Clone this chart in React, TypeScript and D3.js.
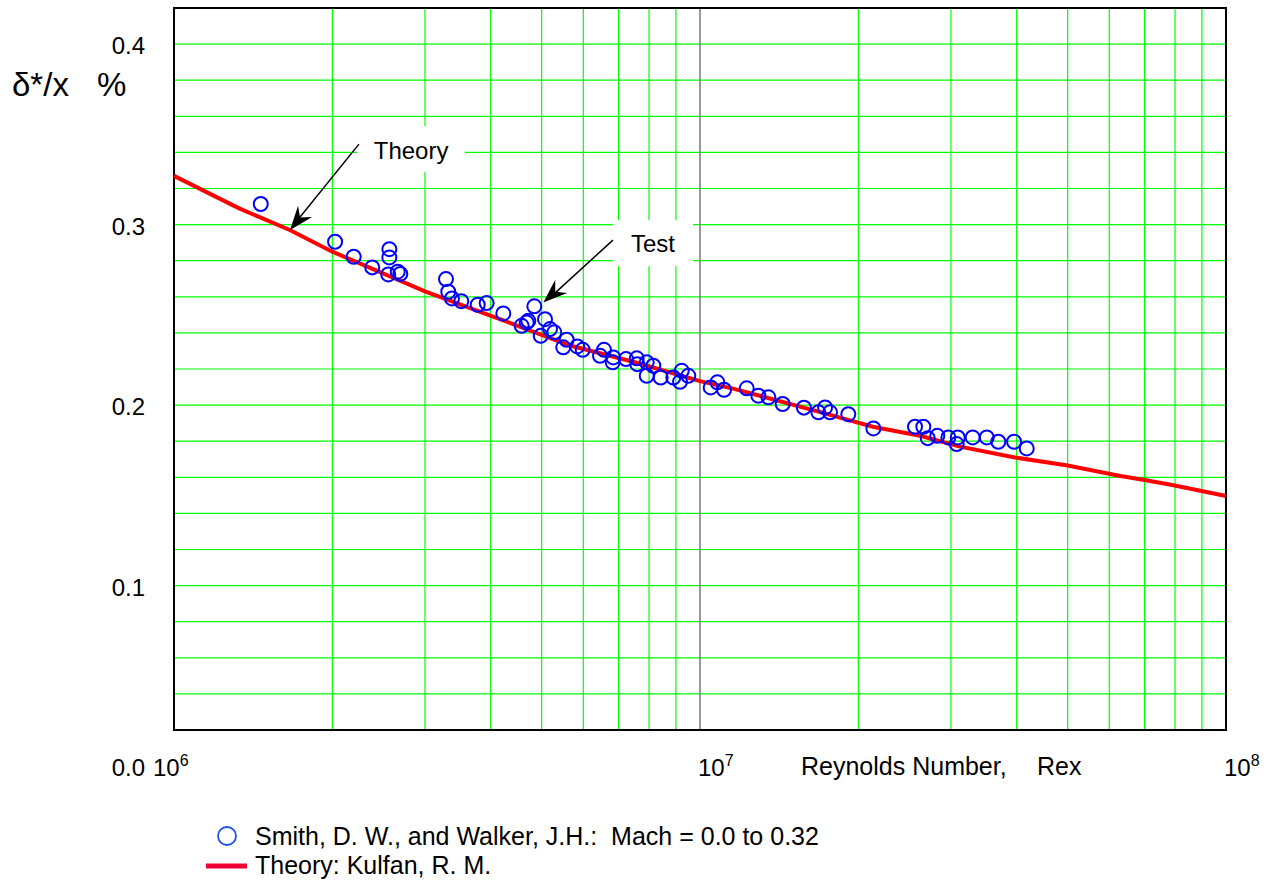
import React from "react";
import * as d3 from "d3";

// Measured displacement thickness (Smith & Walker), Re_x vs delta*/x in percent
const testRe: number[] = [
  1.462e6, 2.024e6, 2.196e6, 2.382e6, 2.567e6, 2.567e6, 2.555e6, 2.663e6, 2.693e6,
  3.289e6, 3.322e6, 3.376e6, 3.517e6, 3.779e6, 3.93e6, 4.227e6, 4.842e6, 4.581e6,
  4.683e6, 4.716e6, 5.074e6, 4.98e6, 5.186e6, 5.284e6, 5.578e6, 5.495e6, 5.844e6,
  5.984e6, 6.569e6, 6.455e6, 6.842e6, 6.823e6, 7.233e6, 7.581e6, 7.6e6, 7.92e6,
  8.152e6, 7.92e6, 8.42e6, 8.897e6, 9.231e6, 9.163e6, 9.501e6, 1.048e7, 1.079e7,
  1.111e7, 1.227e7, 1.291e7, 1.349e7, 1.436e7, 1.576e7, 1.679e7, 1.729e7, 1.767e7,
  1.914e7, 2.136e7, 2.563e7, 2.658e7, 2.71e7, 2.826e7, 2.966e7, 3.09e7, 3.076e7,
  3.299e7, 3.509e7, 3.691e7, 3.954e7, 4.18e7,
];
const testDelta: number[] = [
  0.3114, 0.2905, 0.2822, 0.2763, 0.2864, 0.2818, 0.2724, 0.2739, 0.2727,
  0.2698, 0.2628, 0.2591, 0.2576, 0.2556, 0.2565, 0.2508, 0.2547, 0.2439,
  0.2458, 0.2467, 0.2476, 0.2384, 0.2421, 0.2403, 0.2362, 0.232, 0.2325,
  0.2306, 0.2306, 0.2273, 0.2264, 0.2237, 0.2255, 0.2259, 0.2227, 0.2237,
  0.2218, 0.2162, 0.2153, 0.2153, 0.219, 0.2129, 0.2162, 0.2098, 0.2126,
  0.2085, 0.2093, 0.2052, 0.2043, 0.2006, 0.1986, 0.196, 0.1987, 0.196,
  0.195, 0.1871, 0.188, 0.188, 0.1817, 0.183, 0.1821, 0.1821, 0.1784,
  0.1821, 0.1821, 0.1797, 0.1797, 0.176,
];

// Kulfan theory curve
const theoryRe: number[] = [
  1.0e6, 1.33e6, 1.66e6, 2.0e6, 3.0e6, 4.4e6, 5.66e6, 7.46e6, 1.0e7, 1.16e7,
  1.7e7, 2.13e7, 2.62e7, 3.12e7, 3.97e7, 5.0e7, 6.3e7, 7.0e7, 7.9e7, 1.0e8,
];
const theoryDelta: number[] = [
  0.327, 0.309, 0.297, 0.285, 0.263, 0.245, 0.233, 0.224, 0.2133, 0.209,
  0.196, 0.188, 0.183, 0.177, 0.171, 0.1665, 0.1607, 0.1585, 0.1557, 0.1496,
];

const yTickValues: number[] = [0.0, 0.1, 0.2, 0.3, 0.4];
const yTickLabels: string[] = ["0.0", "0.1", "0.2", "0.3", "0.4"];
const xDecades: number[] = [1e6, 1e7, 1e8];
const xDecadeExponents: string[] = ["6", "7", "8"];

const legendLabels: string[] = [
  "Smith, D. W., and Walker, J.H.:  Mach = 0.0 to 0.32",
  "Theory: Kulfan, R. M.",
];

const FONT = "'Liberation Sans', Arial, Helvetica, sans-serif";

export default function App() {
  const left = 174;
  const right = 1226;
  const top = 8;
  const bottom = 730;

  const x = d3.scaleLog().domain([1e6, 1e8]).range([left, right]);
  const y = d3.scaleLinear().domain([0.02, 0.42]).range([bottom, top]);

  // minor vertical gridlines 2..9 per decade
  const vGrid: number[] = [];
  [1e6, 1e7].forEach((d) => {
    for (let k = 2; k <= 9; k++) vGrid.push(d * k);
  });
  const hGrid: number[] = d3.range(0.04, 0.401, 0.02);

  const line = d3
    .line<number>()
    .x((_, i) => x(theoryRe[i]))
    .y((d) => y(d))
    .curve(d3.curveLinear);
  const theoryPath = line(theoryDelta) || "";

  // annotation anchors in data space
  const theoryTip = [x(1.662e6), y(0.297)];
  const theoryStart = [x(2.247e6), y(0.3446)];
  const theoryText = [x(2.823e6), y(0.3413)];
  const testTip = [x(5.037e6), y(0.2569)];
  const testStart = [x(6.83e6), y(0.2914)];
  const testText = [x(8.14e6), y(0.2897)];

  const arrowHead = (tip: number[], from: number[]) => {
    const ang = Math.atan2(tip[1] - from[1], tip[0] - from[0]);
    const len = 24;
    const half = 9;
    const notch = 16;
    const ux = Math.cos(ang);
    const uy = Math.sin(ang);
    const px = -uy;
    const py = ux;
    const bx = tip[0] - ux * len;
    const by = tip[1] - uy * len;
    const nx = tip[0] - ux * notch;
    const ny = tip[1] - uy * notch;
    return `M${tip[0]},${tip[1]}L${bx + px * half},${by + py * half}L${nx},${ny}L${bx - px * half},${by - py * half}Z`;
  };

  return (
    <svg
      width={1266}
      height={882}
      style={{ position: "absolute", left: 0, top: 0, background: "#fff" }}
      fontFamily={FONT}
    >
      <rect x={0} y={0} width={1266} height={882} fill="#fff" />

      {/* gridlines */}
      <g stroke="#00ff00" strokeWidth={1.2}>
        {hGrid.map((v, i) => (
          <line key={"h" + i} x1={left} x2={right} y1={y(v)} y2={y(v)} />
        ))}
        {vGrid.map((v, i) => (
          <line key={"v" + i} x1={x(v)} x2={x(v)} y1={top} y2={bottom} />
        ))}
      </g>
      <line x1={x(1e7)} x2={x(1e7)} y1={top} y2={bottom} stroke="#808080" strokeWidth={1.6} />

      {/* annotation boxes */}
      <rect x={theoryText[0] - 54} y={theoryText[1] - 24} width={108} height={46} fill="#fff" />
      <rect x={testText[0] - 40} y={testText[1] - 23} width={80} height={46} fill="#fff" />

      {/* frame */}
      <rect x={left} y={top} width={right - left} height={bottom - top} fill="none" stroke="#000" strokeWidth={2} />

      {/* theory curve */}
      <path d={theoryPath} fill="none" stroke="#ff0000" strokeWidth={4} />

      {/* test points */}
      <g fill="none" stroke="#0000ff" strokeWidth={2}>
        {testRe.map((re, i) => (
          <circle key={i} cx={x(re)} cy={y(testDelta[i])} r={7} />
        ))}
      </g>

      {/* annotations */}
      <line x1={theoryStart[0]} y1={theoryStart[1]} x2={theoryTip[0] + 6} y2={theoryTip[1] - 8} stroke="#000" strokeWidth={1.5} />
      <path d={arrowHead(theoryTip, theoryStart)} fill="#000" />
      <text x={theoryText[0]} y={theoryText[1] + 9} fontSize={24} textAnchor="middle" fill="#000">
        Theory
      </text>
      <line x1={testStart[0]} y1={testStart[1]} x2={testTip[0] + 8} y2={testTip[1] - 6} stroke="#000" strokeWidth={1.5} />
      <path d={arrowHead(testTip, testStart)} fill="#000" />
      <text x={testText[0]} y={testText[1] + 9} fontSize={24} textAnchor="middle" fill="#000">
        Test
      </text>

      {/* y tick labels */}
      {yTickValues.map((v, i) => (
        <text key={"yt" + i} x={145} y={y(v) + 10} fontSize={24} textAnchor="end" fill="#000">
          {yTickLabels[i]}
        </text>
      ))}

      {/* x decade labels */}
      {xDecades.map((v, i) => (
        <text key={"xt" + i} x={x(v) + (i === 0 ? -21 : -2)} y={776} fontSize={24} fill="#000">
          10
          <tspan fontSize={16} dy={-10}>
            {xDecadeExponents[i]}
          </tspan>
        </text>
      ))}

      {/* axis titles */}
      <text x={801} y={775} fontSize={25} fill="#000">
        Reynolds Number,
      </text>
      <text x={1037} y={775} fontSize={25} fill="#000">
        Rex
      </text>
      <text x={12} y={96} fontSize={33} fill="#000">
        δ*/x
      </text>
      <text x={97} y={96} fontSize={33} fill="#000">
        %
      </text>

      {/* legend */}
      <circle cx={227} cy={836} r={9} fill="none" stroke="#2050f0" strokeWidth={1.8} />
      <text x={255} y={845} fontSize={25} fill="#000" style={{ whiteSpace: "pre" }}>
        {legendLabels[0]}
      </text>
      <line x1={206} x2={247} y1={866} y2={866} stroke="#f00030" strokeWidth={5} />
      <text x={255} y={874} fontSize={25} fill="#000" style={{ whiteSpace: "pre" }}>
        {legendLabels[1]}
      </text>
    </svg>
  );
}
